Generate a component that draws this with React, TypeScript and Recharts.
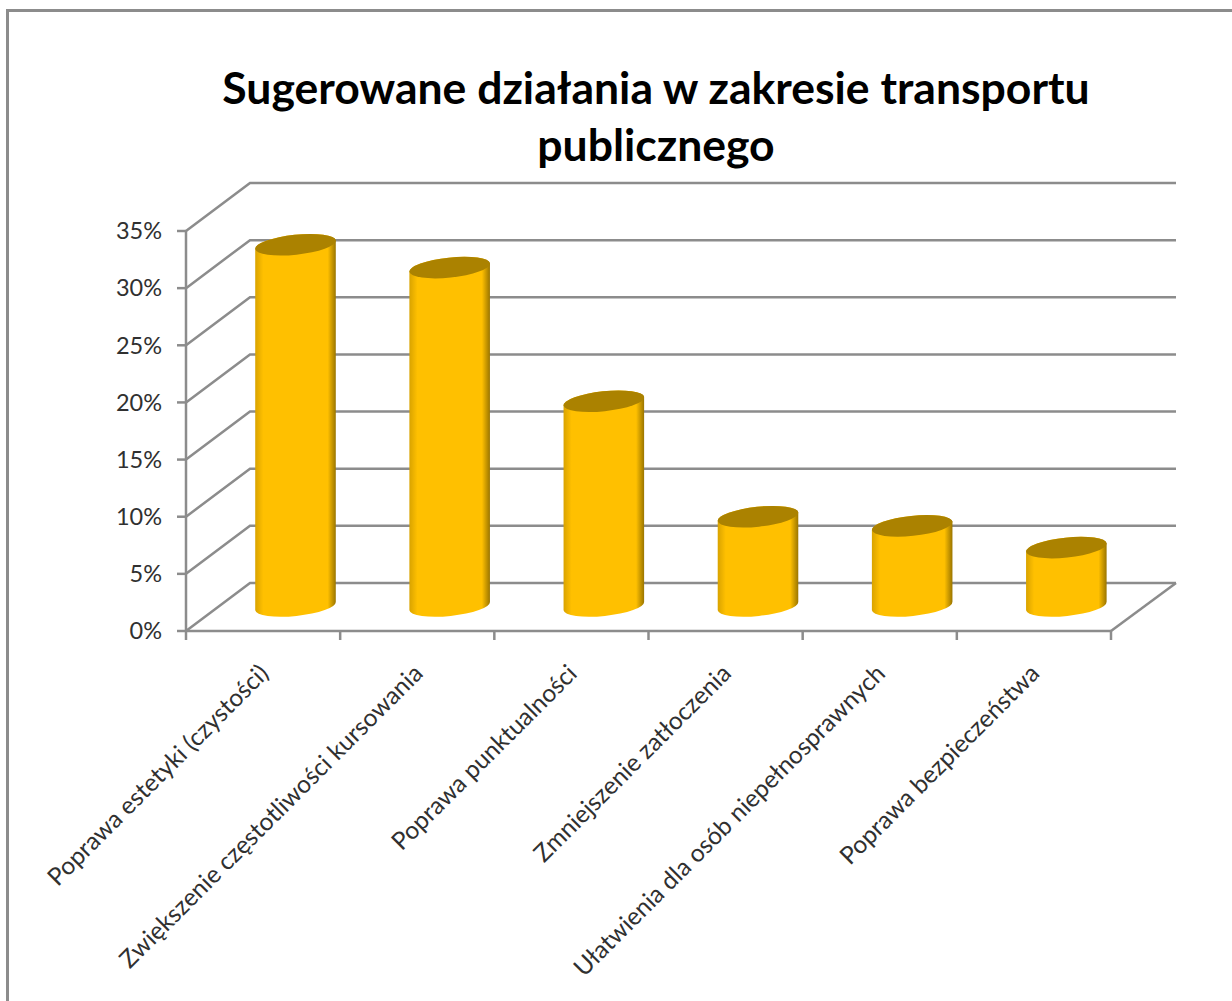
import { BarChart, Bar, XAxis, YAxis, CartesianGrid } from 'recharts';

const categories = [
  'Poprawa estetyki (czystości)',
  'Zwiększenie częstotliwości kursowania',
  'Poprawa punktualności',
  'Zmniejszenie zatłoczenia',
  'Ułatwienia dla osób niepełnosprawnych',
  'Poprawa bezpieczeństwa',
];
const shares = [31.7, 29.7, 18.0, 7.9, 7.1, 5.2];
const yTicks = [0, 5, 10, 15, 20, 25, 30, 35];
const titleLines = ['Sugerowane działania w zakresie transportu', 'publicznego'];

const chartData = categories.map((name, i) => ({ name, value: shares[i] }));

const FONT = 'Lato, sans-serif';
const GREY = '#8c8c8c';
const TEXT = '#303030';

// fake 3D: back wall is shifted from the front plane by this much
const DEPTH_X = 64;
const DEPTH_Y = 48;
const BAND = 925 / categories.length;

function GridLine(props: any) {
  const { x1, x2, y1 } = props;
  const isFloor = Math.abs(y1 - 631) < 1;
  return (
    <g>
      <path
        d={`M${x1},${y1} L${x1 + DEPTH_X},${y1 - DEPTH_Y} L${x2 + 65},${y1 - DEPTH_Y}`}
        fill="none"
        stroke={GREY}
        strokeWidth={2.5}
      />
      {isFloor && (
        <line x1={x2} y1={y1} x2={x2 + 65} y2={y1 - DEPTH_Y} stroke={GREY} strokeWidth={2.5} />
      )}
    </g>
  );
}

function Cylinder(props: any) {
  const { x, y, width, height } = props;
  // the cylinder stands half way into the floor
  const cx = x + width / 2 + DEPTH_X / 2;
  const topY = y - DEPTH_Y / 2;
  const bottomY = y + height - DEPTH_Y / 2 - 1;
  const rx = 40.5;
  const ry = 10;
  const tilt = 6;
  const dx = rx * Math.cos((tilt * Math.PI) / 180);
  const dy = rx * Math.sin((tilt * Math.PI) / 180);
  const body =
    `M${cx - dx},${topY + dy} L${cx - dx},${bottomY + dy} ` +
    `A${rx},${ry} ${-tilt} 0 0 ${cx + dx},${bottomY - dy} ` +
    `L${cx + dx},${topY - dy} ` +
    `A${rx},${ry} ${-tilt} 0 0 ${cx - dx},${topY + dy} Z`;
  return (
    <g>
      <path d={body} fill="url(#cylinderSide)" />
      <ellipse
        cx={cx}
        cy={topY}
        rx={rx}
        ry={ry}
        fill="#ab8200"
        transform={`rotate(${-tilt} ${cx} ${topY})`}
      />
    </g>
  );
}

function CategoryTick(props: any) {
  const { x, y, payload, index } = props;
  const top = y - 8;
  return (
    <g>
      <line x1={x - BAND / 2} y1={top} x2={x - BAND / 2} y2={top + 9} stroke={GREY} strokeWidth={2.5} />
      {index === categories.length - 1 && (
        <line x1={x + BAND / 2} y1={top} x2={x + BAND / 2} y2={top + 9} stroke={GREY} strokeWidth={2.5} />
      )}
      <text
        x={x + 7}
        y={y + 36}
        textAnchor="end"
        fontFamily={FONT}
        fontSize={24.5}
        fill={TEXT}
        transform={`rotate(-45 ${x + 7} ${y + 36})`}
      >
        {payload.value}
      </text>
    </g>
  );
}

export default function App() {
  return (
    <div style={{ position: 'absolute', left: 0, top: 0, width: 1232, height: 1001, overflow: 'hidden', background: '#fff' }}>
      <div
        style={{
          position: 'absolute',
          left: 6,
          top: 9,
          width: 1300,
          height: 1100,
          border: `3px solid ${GREY}`,
        }}
      />
      <div
        style={{
          position: 'absolute',
          left: 56,
          width: 1200,
          top: 58,
          textAlign: 'center',
          fontFamily: FONT,
          fontWeight: 700,
          fontSize: 44.5,
          lineHeight: '57px',
          color: '#000',
        }}
      >
        {titleLines.map((line) => (
          <div key={line}>{line}</div>
        ))}
      </div>
      <div style={{ position: 'absolute', left: 0, top: 0 }}>
        <BarChart
          width={1232}
          height={1001}
          data={chartData}
          margin={{ top: 231, right: 121, bottom: 270, left: 106 }}
          barSize={79}
        >
          <defs>
            <linearGradient id="cylinderSide" x1="0" y1="0" x2="1" y2="0">
              <stop offset="0%" stopColor="#d9a300" />
              <stop offset="10%" stopColor="#ffc000" />
              <stop offset="90%" stopColor="#ffc000" />
              <stop offset="100%" stopColor="#9a7500" />
            </linearGradient>
          </defs>
          <CartesianGrid vertical={false} horizontal={(p: any) => <GridLine key={p.key ?? p.y1} {...p} />} />
          <XAxis
            dataKey="name"
            interval={0}
            height={100}
            tickLine={false}
            axisLine={{ stroke: GREY, strokeWidth: 2.5 }}
            tick={<CategoryTick />}
          />
          <YAxis
            width={80}
            domain={[0, 35]}
            ticks={yTicks}
            interval={0}
            tickFormatter={(v: number) => `${v}%`}
            axisLine={{ stroke: GREY, strokeWidth: 2.5 }}
            tickLine={{ stroke: GREY, strokeWidth: 2.5 }}
            tickSize={9}
            tickMargin={15}
            tick={{ fill: TEXT, fontFamily: FONT, fontSize: 23.5 }}
          />
          <Bar dataKey="value" isAnimationActive={false} shape={<Cylinder />} />
        </BarChart>
      </div>
    </div>
  );
}
